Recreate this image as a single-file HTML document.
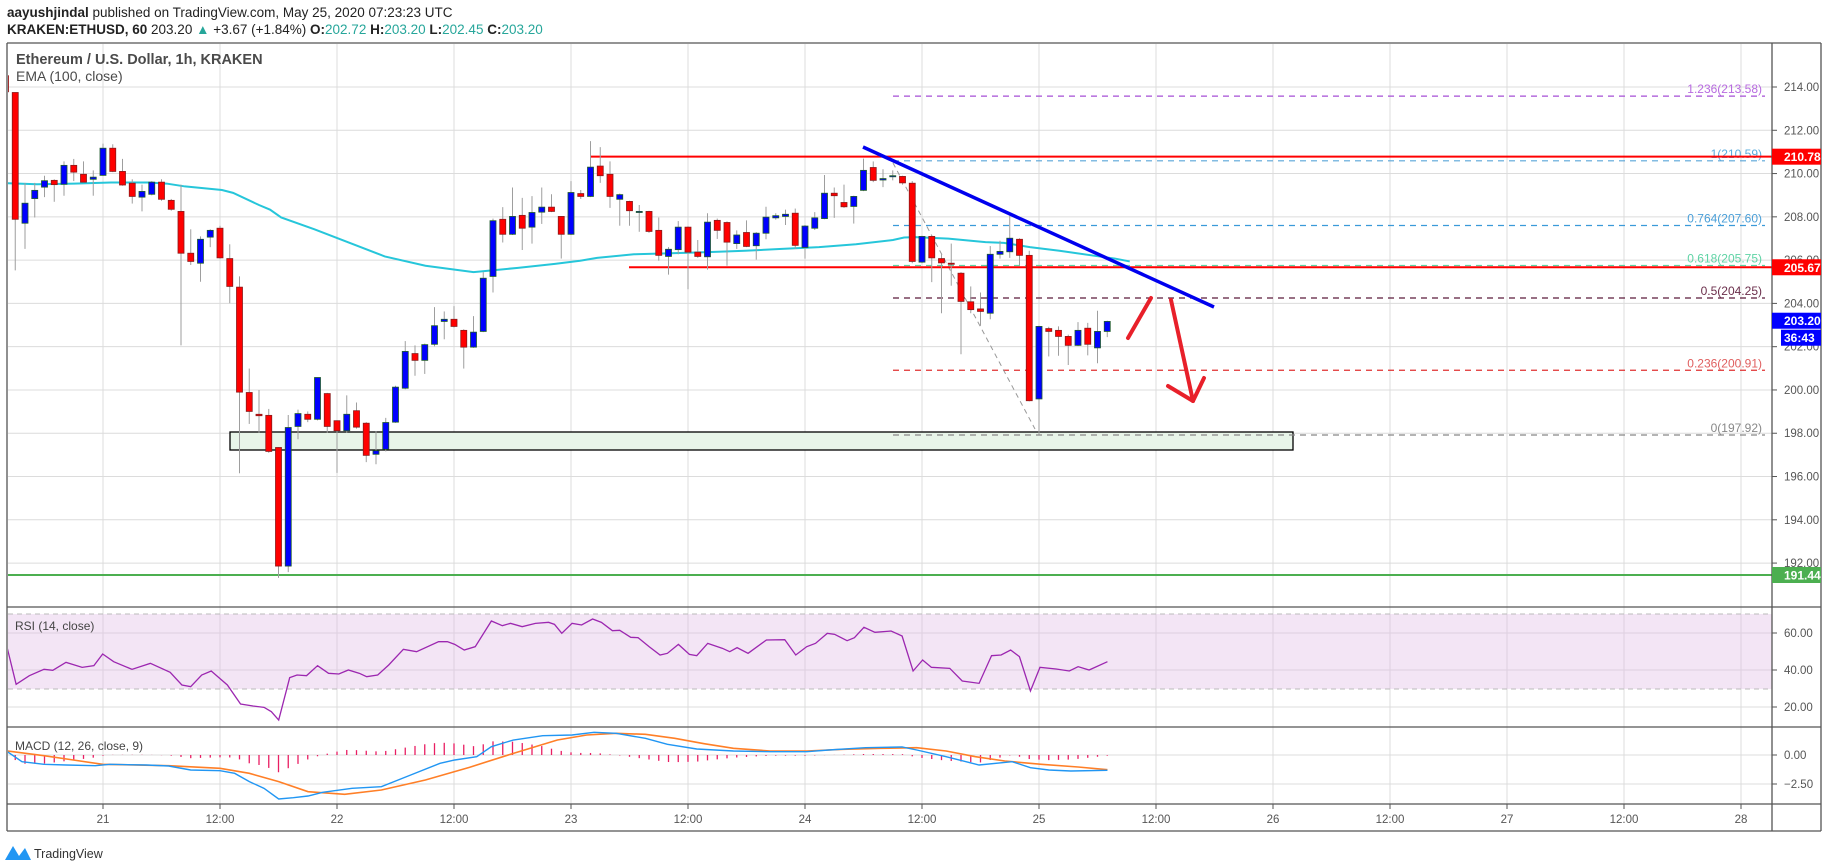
<!DOCTYPE html>
<html><head><meta charset="utf-8">
<style>
html,body{margin:0;padding:0;background:#fff;width:1828px;height:868px;overflow:hidden;}
svg{display:block;font-family:"Liberation Sans",sans-serif;}
</style></head>
<body>
<svg id="s" width="1828" height="868" viewBox="0 0 1828 868" xmlns="http://www.w3.org/2000/svg">
<defs><clipPath id="plot"><rect x="8" y="44" width="1764" height="563"/></clipPath>
<clipPath id="pl2"><rect x="8" y="44" width="1764" height="760"/></clipPath></defs>
<text x="7" y="17" font-size="13.5" fill="#222"><tspan font-weight="bold">aayushjindal</tspan> published on TradingView.com, May 25, 2020 07:23:23 UTC</text>
<text x="7" y="34" font-size="13.5" fill="#222"><tspan font-weight="bold">KRAKEN:ETHUSD, 60</tspan>  203.20 <tspan fill="#26a69a">▲</tspan> +3.67 (+1.84%) <tspan font-weight="bold">O:</tspan><tspan fill="#26a69a">202.72</tspan> <tspan font-weight="bold">H:</tspan><tspan fill="#26a69a">203.20</tspan> <tspan font-weight="bold">L:</tspan><tspan fill="#26a69a">202.45</tspan> <tspan font-weight="bold">C:</tspan><tspan fill="#26a69a">203.20</tspan></text>
<g id="g"></g>
</svg>
<script>
const NS="http://www.w3.org/2000/svg";const G=document.getElementById('g');
function el(t,a,txt,p){const e=document.createElementNS(NS,t);for(const k in a)e.setAttribute(k,a[k]);if(txt!=null)e.textContent=txt;(p||G).appendChild(e);return e;}
const Y=p=>87+(214-p)*21.64;
// grid
for(let k=0;k<=14;k++){const x=103+117*k;el('line',{x1:x,y1:44,x2:x,y2:804,stroke:'#dcdcdc','stroke-width':1});}
for(let p=192;p<=214;p+=2){el('line',{x1:8,y1:Y(p),x2:1772,y2:Y(p),stroke:'#dcdcdc'});}
[633,670,707,755,784].forEach(y=>el('line',{x1:8,y1:y,x2:1772,y2:y,stroke:'#dcdcdc'}));
// RSI band
el('rect',{x:8,y:614,width:1764,height:75,fill:'#e1bee7','fill-opacity':0.4});
el('line',{x1:8,y1:614,x2:1772,y2:614,stroke:'#bbb','stroke-dasharray':'5,4'});
el('line',{x1:8,y1:689,x2:1772,y2:689,stroke:'#bbb','stroke-dasharray':'5,4'});
const PG=el('g',{'clip-path':'url(#plot)'});
// green zone
el('rect',{x:230,y:432,width:1063,height:18,fill:'#e8f5e9',stroke:'#000','stroke-width':1.3},null,PG);
// green support
el('line',{x1:8,y1:575,x2:1772,y2:575,stroke:'#4caf50','stroke-width':2},null,PG);
// fib lines
const fib=[[213.58,'1.236(213.58)','#a64fd6','#b86be0'],[210.59,'1(210.59)','#5aa5d8','#5aacde'],[207.60,'0.764(207.60)','#3a9ad9','#4a9fd8'],[205.75,'0.618(205.75)','#5fd3a5','#5fd3a5'],[204.25,'0.5(204.25)','#5b1a3a','#6b2e4b'],[200.91,'0.236(200.91)','#e03030','#e06060'],[197.92,'0(197.92)','#888','#888']];
fib.forEach(f=>{const y=Y(f[0]);el('line',{x1:893,y1:y,x2:1765,y2:y,stroke:f[2],'stroke-dasharray':'6,5','stroke-width':1.2},null,PG);el('text',{x:1762,y:y-3,'text-anchor':'end','font-size':12,fill:f[3]},f[1],PG);});
// diag dashed
el('line',{x1:893,y1:163,x2:1035,y2:429,stroke:'#999','stroke-dasharray':'5,4'},null,PG);
// red horizontals
el('line',{x1:590,y1:Y(210.78),x2:1772,y2:Y(210.78),stroke:'#ff0000','stroke-width':2},null,PG);
el('line',{x1:629,y1:Y(205.67),x2:1772,y2:Y(205.67),stroke:'#ff0000','stroke-width':2},null,PG);
// EMA
const e9=[[20,401],[100,404],[200,402],[300,399],[400,399],[450,402],[500,410],[600,420],[630,428],[700,462],[730,475],[760,497],[850,530],[950,570],[1040,606],[1150,632],[1280,650],[1330,645],[1400,638],[1500,627],[1568,618]];
const e10=[[100,610],[200,600],[300,597],[400,594],[500,590],[600,585],[700,580],[800,572],[900,560],[930,553],[960,552],[1050,556],[1150,566],[1200,568],[1270,580],[1350,590],[1450,605],[1500,612],[1540,620]];
let pts=e9.map(p=>[p[0]/2.703,40+p[1]/2.8]).concat(e10.map(p=>[560+p[0]/2.703,40+p[1]/2.8]));
el('polyline',{points:pts.map(p=>p.join(',')).join(' '),fill:'none',stroke:'#26c6da','stroke-width':2},null,PG);
// candles [c,bt,bb,wt,wb] zoom y
const C=[['r',100,145,95,150],['r',147,502,147,645],['b',457,513,400,585],['b',421,444,400,497],['b',394,412,380,440],['r',393,405,390,453],['b',351,404,340,436],['r',351,370,333,395],['r',376,398,340,400],['b',384,390,365,436],['b',303,379,290,380],['r',303,368,292,370],['r',368,406,333,408],['r',401,438,390,458],['b',424,440,405,480],['b',398,432,395,435],['r',398,446,390,450],['r',449,474,445,478],['r',480,597,405,855],['r',597,620,530,630],['b',558,625,550,677],['b',533,552,530,580],['r',527,610,520,612],['r',612,690,572,737],['r',692,986,662,1213],['r',987,1040,920,1075],['r',1048,1052,980,1100],['r',1051,1152,1033,1156],['r',1141,1473,1140,1506],['b',1085,1473,1050,1490],['b',1046,1082,1035,1118],['r',1048,1062,1040,1070],['b',945,1062,945,1065],['r',990,1082,988,1100],['r',1066,1094,1065,1212],['b',1048,1094,995,1100],['r',1038,1084,1015,1088],['r',1073,1163,1070,1182],['b',1150,1160,1095,1188],['b',1071,1146,1058,1152],['b',972,1070,968,1072],['b',872,975,843,978],['r',878,897,855,940],['b',853,897,850,935],['b',800,852,748,858],['b',782,788,760,838],['r',782,802,745,805],['r',813,860,810,920],['b',818,860,773,862],['b',667,816,650,818],['b',506,662,500,707],['r',502,544,468,567],['b',494,544,413,546],['r',491,527,442,588],['b',483,524,437,570],['b',468,482,413,515],['r',468,480,432,482],['r',494,544,493,612],['b',427,544,395,546],['r',430,438,420,445],
['b',356,438,283,440],['r',353,380,300,400],['r',376,438,340,470],['b',433,446,430,520],['r',452,478,450,520],['b',480,483,462,537],['r',480,536,478,540],['r',533,603,497,618],['b',586,606,580,657],['b',524,587,507,600],['r',524,594,522,698],['r',594,606,560,610],['b',510,607,485,643],['r',505,533,500,557],['r',511,566,508,632],['b',546,570,533,585],['r',539,578,505,580],['b',541,576,538,615],['b',496,541,467,558],['b',492,498,485,503],['b',488,494,475,518],['r',485,575,472,585],['b',521,581,518,612],['b',498,527,482,532],['b',429,500,378,502],['r',429,436,413,498],['r',455,467,405,470],['b',438,466,436,514],['b',365,421,332,423],['r',357,393,340,398],['b',388,392,362,412],['b',380,383,365,393],['r',382,400,380,405],['r',401,620,395,625],['b',550,622,548,625],['r',550,610,548,678],['r',612,624,600,765],['r',625,628,570,688],['r',653,732,650,880],['r',733,755,690,765],['r',753,760,707,800],['b',600,765,577,782],['b',592,600,562,612],['b',555,593,492,610],['r',558,603,555,630],['r',603,1010,590,1012],['b',802,1005,800,1105],['r',808,816,803,886],['r',813,830,802,884],['r',830,855,825,910],['b',813,855,790,857],['r',807,852,792,883],['b',816,862,758,905],['b',788,816,786,832]];
const zy=v=>40+v/2.8;
C.forEach((c,i)=>{const x=103+9.75*(i-10);
el('line',{x1:x,y1:zy(c[3]),x2:x,y2:zy(c[4]),stroke:'#9e9e9e','stroke-width':1},null,PG);
const t=zy(c[1]),b=zy(c[2]);
el('rect',{x:x-3,y:t,width:6,height:Math.max(1,b-t),fill:c[0]=='r'?'#ff0000':'#0000ff',stroke:c[0]=='r'?'#8b1a1a':'#1e5a2b','stroke-width':0.8},null,PG);});
// trendline & arrows
el('line',{x1:863,y1:147,x2:1214,y2:307,stroke:'#0000ee','stroke-width':3.5},null,PG);
el('line',{x1:1128,y1:338,x2:1151,y2:298,stroke:'#e8202a','stroke-width':4,'stroke-linecap':'round'},null,PG);
el('line',{x1:1171,y1:300,x2:1193,y2:401,stroke:'#e8202a','stroke-width':4,'stroke-linecap':'round'},null,PG);
el('polyline',{points:'1168,386 1193,401 1204,378',fill:'none',stroke:'#e8202a','stroke-width':4,'stroke-linecap':'round','stroke-linejoin':'round'},null,PG);
// legends
el('text',{x:16,y:64,'font-size':14.5,'font-weight':'bold',fill:'#4a4a4a'},'Ethereum / U.S. Dollar, 1h, KRAKEN');
el('text',{x:16,y:81,'font-size':14,fill:'#4a4a4a'},'EMA (100, close)');
el('text',{x:15,y:630,'font-size':12,fill:'#444'},'RSI (14, close)');
el('text',{x:15,y:750,'font-size':12,fill:'#444'},'MACD (12, 26, close, 9)');
// RSI
const R=[[10,130],[22,238],[40,212],[60,193],[72,196],[90,172],[112,187],[128,182],[140,147],[155,170],[180,193],[205,175],[232,202],[248,240],[260,245],[275,210],[288,198],[310,240],[328,297],[345,303],[360,307],[370,320],[380,345],[395,218],[405,210],[418,212],[433,182],[448,205],[462,207],[475,195],[490,205],[500,215],[515,210],[530,180],[550,133],[568,140],[598,110],[610,110],[620,118],[633,135],[648,125],[670,48],[685,62],[696,55],[712,65],[730,55],[748,52],[756,58],[766,85],[780,55],[793,60],[808,42],[820,52],[835,77],[845,76],[860,97],[870,98],[885,125],[900,150],[910,145],[925,118],[940,148],[950,152],[965,115],[985,130],[995,140],[1005,128],[1020,145],[1045,105],[1070,104],[1085,150],[1100,125],[1112,115],[1128,85],[1138,88],[1155,107],[1165,98],[1178,67],[1193,82],[1215,78],[1230,93],[1245,198],[1258,165],[1270,187],[1295,190],[1312,228],[1335,235],[1352,152],[1365,150],[1378,135],[1390,155],[1405,258],[1418,187],[1440,192],[1458,198],[1470,185],[1485,195],[1510,170]];
const cv=p=>[p[0]/1.3635,605+p[1]/3];
const PG2=el('g',{'clip-path':'url(#pl2)'});
el('polyline',{points:R.map(cv).map(p=>p.join(',')).join(' '),fill:'none',stroke:'#9c27b0','stroke-width':1.3},null,PG2);
// MACD
const MB=[[10,440],[30,470],[60,478],[90,480],[130,482],[150,478],[200,480],[230,483],[260,495],[300,497],[320,505],[340,530],[360,550],[380,582],[400,578],[420,573],[440,562],[480,550],[520,545],[560,510],[600,475],[620,465],[650,455],[670,425],[700,405],[740,392],[780,390],[810,382],[840,385],[880,400],[910,418],[950,432],[1000,438],[1050,440],[1100,440],[1130,435],[1180,428],[1230,426],[1250,435],[1290,455],[1335,480],[1380,470],[1405,488],[1430,495],[1460,498],[1510,496]];
const MO=[[10,438],[60,452],[100,465],[140,478],[230,482],[300,490],[340,505],[380,530],[420,560],[470,568],[520,555],[580,525],[640,487],[700,445],[760,405],[800,390],[840,385],[880,388],[920,400],[960,416],[1000,430],[1050,438],[1100,438],[1150,433],[1200,430],[1250,428],[1290,438],[1330,455],[1370,468],[1420,478],[1470,486],[1510,494]];
function interp(a,x){if(x<=a[0][0])return a[0][1];for(let i=1;i<a.length;i++){if(x<=a[i][0]){const t=(x-a[i-1][0])/(a[i][0]-a[i-1][0]);return a[i-1][1]+t*(a[i][1]-a[i-1][1]);}}return a[a.length-1][1];}
for(let i=0;i<C.length;i++){const x=103+9.75*(i-10);if(x<9)continue;const zx=x*1.3635;if(zx>1512)break;const d=interp(MB,zx)-interp(MO,zx);
el('line',{x1:x,y1:755,x2:x,y2:755+d/3,stroke:'#e91e63','stroke-width':1.3},null,PG2);}
el('polyline',{points:MO.map(cv).map(p=>p.join(',')).join(' '),fill:'none',stroke:'#ff7f27','stroke-width':1.6},null,PG2);
el('polyline',{points:MB.map(cv).map(p=>p.join(',')).join(' '),fill:'none',stroke:'#2196f3','stroke-width':1.4},null,PG2);
// borders
[[7,43,1821,43],[7,607,1821,607],[7,727,1821,727],[7,804,1821,804],[7,831,1821,831],[7,43,7,831],[1772,43,1772,831],[1821,43,1821,831]].forEach(l=>el('line',{x1:l[0],y1:l[1],x2:l[2],y2:l[3],stroke:'#555','stroke-width':1.3}));
// price axis
for(let p=192;p<=216;p+=2){const y=Y(p);if(y<44)continue;el('line',{x1:1772,y1:y,x2:1777,y2:y,stroke:'#555'});el('text',{x:1784,y:y+4,'font-size':11.5,fill:'#555'},p.toFixed(2));}
[[60,633],[40,670],[20,707]].forEach(a=>{el('line',{x1:1772,y1:a[1],x2:1777,y2:a[1],stroke:'#555'});el('text',{x:1784,y:a[1]+4,'font-size':11.5,fill:'#555'},a[0].toFixed(2));});
[['0.00',755],['\u22122.50',784]].forEach(a=>{el('line',{x1:1772,y1:a[1],x2:1777,y2:a[1],stroke:'#555'});el('text',{x:1784,y:a[1]+4,'font-size':11.5,fill:'#555'},a[0]);});
function lab(y,txt,col,x0){el('rect',{x:x0||1772,y:y-8,width:1821-(x0||1772),height:16,fill:col});el('text',{x:1784,y:y+4.5,'font-size':12,'font-weight':'bold',fill:'#fff'},txt);}
lab(Y(210.78),'210.78','#ff0000');lab(Y(205.67),'205.67','#ff0000');lab(Y(203.2),'203.20','#0000ff');lab(Y(203.2)+17,'36:43','#0000ff',1781);lab(575,'191.44','#4caf50');
// time axis
const tl=['21','12:00','22','12:00','23','12:00','24','12:00','25','12:00','26','12:00','27','12:00','28'];
tl.forEach((t,k)=>{const x=103+117*k;el('line',{x1:x,y1:804,x2:x,y2:809,stroke:'#555'});el('text',{x:x,y:823,'text-anchor':'middle','font-size':11.5,fill:'#555'},t);});
// logo
el('path',{d:'M5,860 L13,846 L19,856 L25,848 L31,860 Z',fill:'#2196f3'});
el('text',{x:34,y:858,'font-size':12.5,fill:'#333'},'TradingView');
</script>
</body></html>
